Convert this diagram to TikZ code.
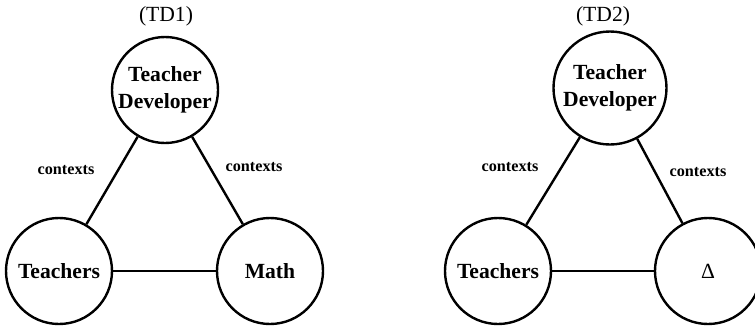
\documentclass[tikz,border=0pt]{standalone}
\usepackage{fontspec}
\setmainfont{Liberation Serif}
\begin{document}
\begin{tikzpicture}[x=0.5pt,y=0.5pt,
    vertex/.style={circle, draw, line width=1.2pt, minimum size=53pt, inner sep=0pt,
        align=center, font=\fontsize{10.8}{13.8}\selectfont\bfseries},
    link/.style={line width=1.2pt},
    ctx/.style={font=\fontsize{8.1}{10}\selectfont\bfseries},
    ttl/.style={font=\fontsize{10.8}{13}\selectfont}]
\useasboundingbox (0,0) rectangle (755,328);

% ========= 左图：(TD1) =========
\begin{scope}
    % 标题
    \node[ttl] (ttlA) at (166,312) {(TD1)};

    % 三个顶点
    \node[vertex] (devA) at (165,238) {Teacher\\Developer};
    \node[vertex] (tchA) at (59,57) {Teachers};
    \node[vertex] (mathA) at (270,57) {Math};

    % 连线
    \draw[link] (devA) -- (tchA);
    \draw[link] (devA) -- (mathA);
    \draw[link] (tchA) -- (mathA);

    % 边标签
    \node[ctx] (ctxAl) at (66,158) {contexts};
    \node[ctx] (ctxAr) at (254,161) {contexts};
\end{scope}

% ========= 右图：(TD2) =========
\begin{scope}
    % 标题
    \node[ttl] (ttlB) at (603,312) {(TD2)};

    % 三个顶点
    \node[vertex, minimum size=56.5pt] (devB) at (610,240) {Teacher\\Developer};
    \node[vertex] (tchB) at (498,57) {Teachers};
    \node[vertex, font=\fontsize{10.8}{13}\selectfont] (delB) at (708,57) {Δ};

    % 连线
    \draw[link] (devB) -- (tchB);
    \draw[link] (devB) -- (delB);
    \draw[link] (tchB) -- (delB);

    % 边标签
    \node[ctx] (ctxBl) at (510,161) {contexts};
    \node[ctx] (ctxBr) at (698,156) {contexts};
\end{scope}
\end{tikzpicture}
\end{document}
